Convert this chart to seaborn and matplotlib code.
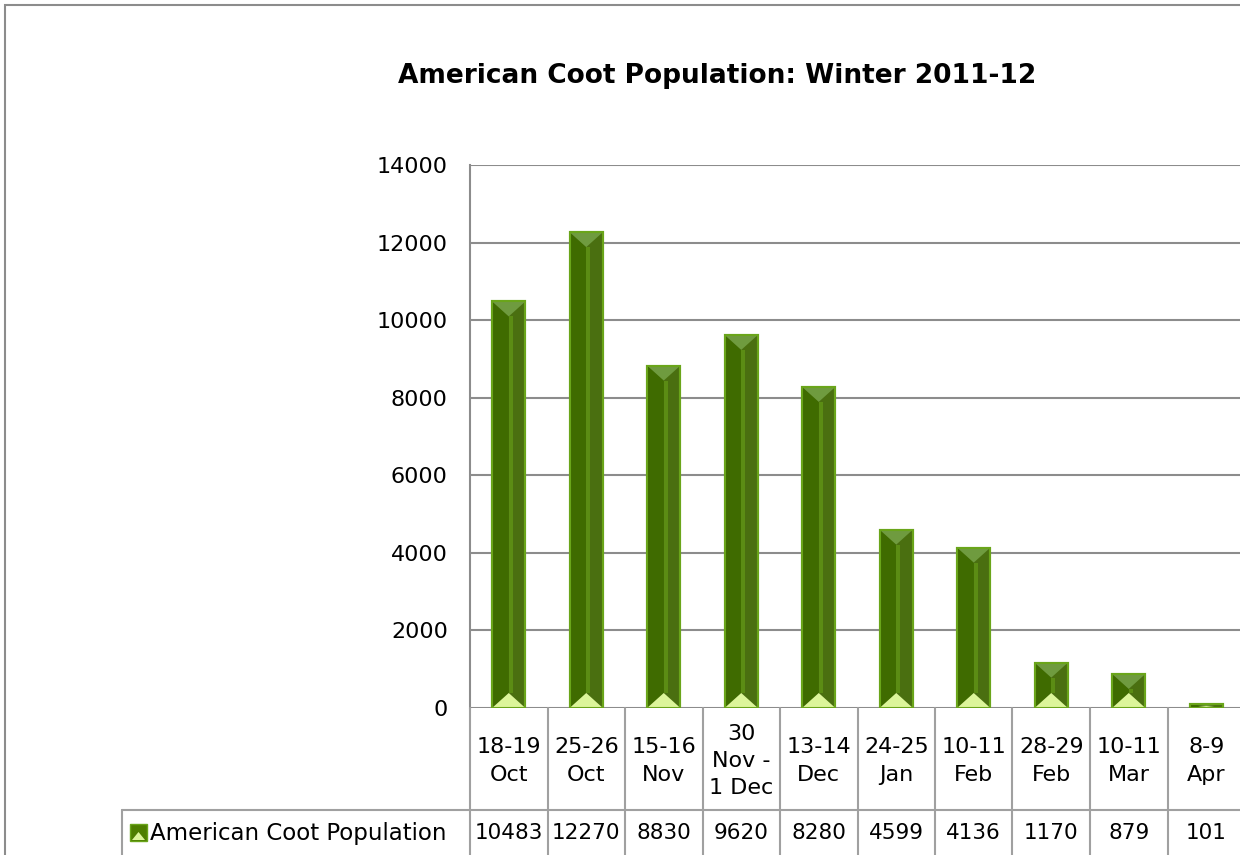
import matplotlib
matplotlib.use("Agg")
import matplotlib.pyplot as plt
import matplotlib.transforms as mtransforms
from matplotlib.patches import Polygon, Rectangle
from matplotlib.lines import Line2D
import seaborn as sns
import pandas as pd

# data
dates = ["18-19\nOct", "25-26\nOct", "15-16\nNov", "30\nNov -\n1 Dec", "13-14\nDec",
         "24-25\nJan", "10-11\nFeb", "28-29\nFeb", "10-11\nMar", "8-9\nApr"]
coots = [10483, 12270, 8830, 9620, 8280, 4599, 4136, 1170, 879, 101]
series_name = "American Coot Population"
title = "American Coot Population: Winter 2011-12"
yticks = [0, 2000, 4000, 6000, 8000, 10000, 12000, 14000]

df = pd.DataFrame({"date": dates, "count": coots})

sns.set_style("white")
plt.rcParams["font.family"] = ["DejaVu Sans"]
plt.rcParams["text.color"] = "black"
plt.rcParams["ytick.color"] = "black"

fig = plt.figure(figsize=(12.4, 8.55), dpi=100)
ax = fig.add_axes([470 / 1240, 1 - 708 / 855, 775 / 1240, (708 - 165) / 855])

sns.barplot(data=df, x="date", y="count", color="#4e7f00", width=0.43,
            edgecolor="#6aa51a", linewidth=1.5, ax=ax, zorder=3)

# bevel look on each bar
px_per_unit = (708 - 165) / 14000
for p in ax.patches:
    x0, w, h = p.get_x(), p.get_width(), p.get_height()
    xc = x0 + w / 2
    d = min(15 / px_per_unit, h / 2)
    ax.add_patch(Polygon([(x0, 0), (xc, d), (xc, h - d), (x0, h)], closed=True,
                         facecolor="#3f6b00", edgecolor="none", zorder=3.1))
    ax.add_patch(Polygon([(xc, d), (xc + w * 0.12, d), (xc + w * 0.12, h - d), (xc, h - d)],
                         closed=True, facecolor="#5b8c14", edgecolor="none", zorder=3.1))
    ax.add_patch(Polygon([(x0, h), (x0 + w, h), (xc, h - d)], closed=True,
                         facecolor="#6f9b3f", edgecolor="none", zorder=3.2))
    ax.add_patch(Polygon([(x0, 0), (x0 + w, 0), (xc, d)], closed=True,
                         facecolor="#dcf59a", edgecolor="none", zorder=3.2))
    ax.add_patch(Rectangle((x0, 0), w, h, facecolor="none", edgecolor="#6aa51a",
                           linewidth=1.5, zorder=3.3))

ax.set_xlim(-0.5, len(dates) - 0.5)
ax.set_ylim(0, 14000)
ax.set_yticks(yticks)
ax.set_yticklabels([str(t) for t in yticks], fontsize=16)
ax.tick_params(axis="y", length=0, pad=16)
ax.set_xticks([])
ax.set_xlabel("")
ax.set_ylabel("")
ax.grid(axis="y", color="#8c8c8c", linewidth=1.5, zorder=0)
for s in ["top", "right", "bottom"]:
    ax.spines[s].set_visible(False)
ax.spines["left"].set_color("#8c8c8c")
ax.spines["left"].set_linewidth(1.5)

fig.text(717 / 1240, 1 - 76 / 855, title, ha="center", va="center",
         fontsize=19, fontweight="bold")

# data table under the axis
grid_c = "#a0a0a0"
trans = mtransforms.blended_transform_factory(ax.transData, fig.transFigure)
y_axis = 1 - 708 / 855
y_mid = 1 - 810 / 855
y_bot = 0.0
for i in range(len(dates) + 1):
    xb = i - 0.5
    fig.add_artist(Line2D([xb, xb], [y_bot, y_axis], transform=trans,
                          color=grid_c, linewidth=1.5))
fig.add_artist(Line2D([122 / 1240, 1.0], [y_mid, y_mid], transform=fig.transFigure,
                      color=grid_c, linewidth=1.5))
fig.add_artist(Line2D([122 / 1240, 122 / 1240], [y_bot, y_mid], transform=fig.transFigure,
                      color=grid_c, linewidth=1.5))
for i, (lab, v) in enumerate(zip(dates, coots)):
    fig.text(i, 1 - 761 / 855, lab, transform=trans, ha="center", va="center",
             fontsize=16, linespacing=1.45)
    fig.text(i, 1 - 833 / 855, str(v), transform=trans, ha="center", va="center",
             fontsize=15.5)

# legend key in the table
kx, ky, ks = 130 / 1240, 1 - 841 / 855, 17
fig.add_artist(Rectangle((kx, ky), ks / 1240, ks / 855, transform=fig.transFigure,
                         facecolor="#4e7f00", edgecolor="#6aa51a", linewidth=1))
fig.add_artist(Polygon([(kx + 2 / 1240, ky + 1 / 855), (kx + (ks - 2) / 1240, ky + 1 / 855),
                        (kx + ks / 2 / 1240, ky + 9 / 855)], closed=True,
                       transform=fig.transFigure, facecolor="#dcf59a", edgecolor="none"))
fig.text(150 / 1240, 1 - 833 / 855, series_name, ha="left", va="center", fontsize=16.5)

# outer chart frame
fig.add_artist(Rectangle((5 / 1240, -0.01), 1.1, 1 - 5 / 855 + 0.01,
                         transform=fig.transFigure, facecolor="none",
                         edgecolor="#8c8c8c", linewidth=1.5))

fig.savefig("out.png", dpi=100)
